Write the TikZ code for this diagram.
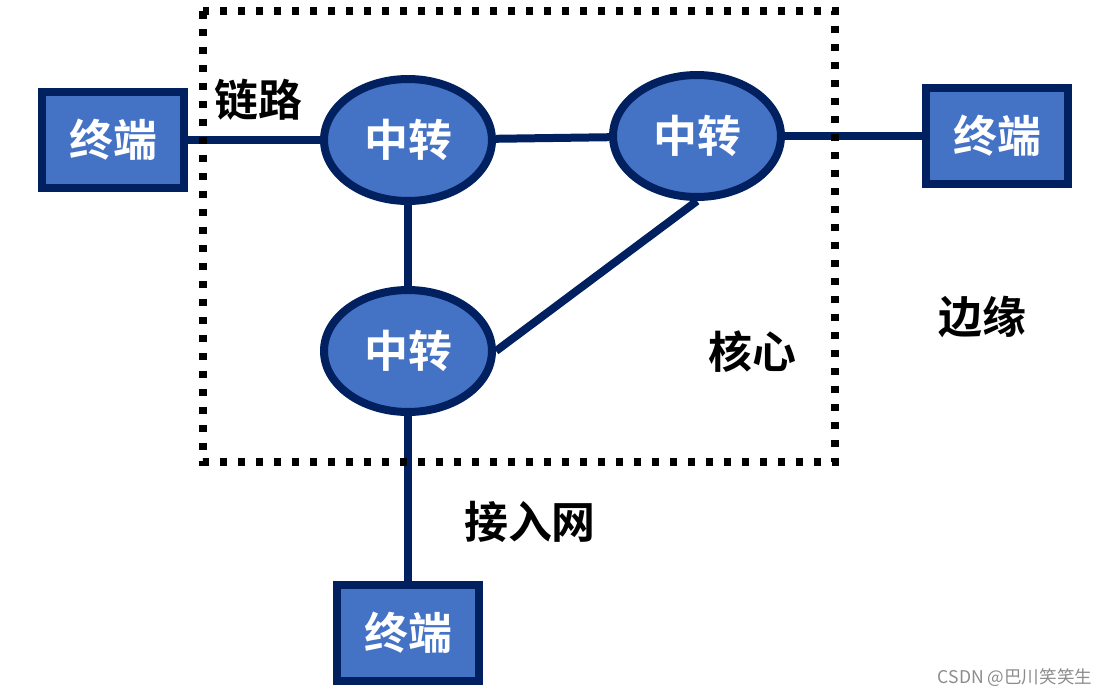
\documentclass[tikz,border=0pt]{standalone}
\usepackage{fontspec}
\setmainfont{Noto Sans CJK SC}
\newfontfamily\cjkbold{Noto Sans CJK SC Bold}
\usetikzlibrary{positioning, shapes.geometric}
\definecolor{navy}{HTML}{002060}
\definecolor{nodeblue}{HTML}{4472C4}
\tikzset{
  term/.style={draw=navy, line width=0.16cm, fill=nodeblue, minimum width=2.84cm, minimum height=1.92cm, inner sep=0pt, text=white, font=\cjkbold\fontsize{25}{30}\selectfont},
  relay/.style={draw=navy, line width=0.16cm, fill=nodeblue, ellipse, minimum width=3.36cm, minimum height=2.44cm, inner sep=0pt, text=white, font=\cjkbold\fontsize{25}{30}\selectfont},
  link/.style={draw=navy, line width=0.16cm},
  core/.style={draw=black, line width=0.15cm, dash pattern=on 0.15cm off 0.21cm},
  tag/.style={font=\cjkbold\fontsize{25}{30}\selectfont, text=black},
}

\begin{document}
\begin{tikzpicture}[x=0.02cm, y=-0.02cm]
  \useasboundingbox (0,0) rectangle (1117,697);
  \node[relay] (tl) at (408,140) {中转};
  \node[relay] (tr) at (697,136) {中转};
  \node[relay] (bot) at (408,351) {中转};
  \node[term] (lt) at (113,140) {终端};
  \node[term] (rt) at (997,136) {终端};
  \node[term] (bt) at (408,633) {终端};

  \draw[link] (lt) -- (tl);
  \draw[link] (tl) -- (tr);
  \draw[link] (tr) -- (rt);
  \draw[link] (tl) -- (bot);
  \draw[link] (tr.south) -- (bot.east);
  \draw[link] (bot) -- (bt);

  % core region
  \coordinate (nw) at (203,11);
  \coordinate (se) at (835,462);
  \draw[core] (nw) rectangle (se);

  \node[tag] (lbl1) at (258,100) {链路};
  \node[tag] (lbl2) at (752,352) {核心};
  \node[tag] (lbl3) at (982,317) {边缘};
  \node[tag] (lbl4) at (530,522) {接入网};
  \node[text=black!45, font=\fontsize{10}{12}\selectfont] (mark) at (1015,678) {CSDN @巴川笑笑生};
\end{tikzpicture}
\end{document}
